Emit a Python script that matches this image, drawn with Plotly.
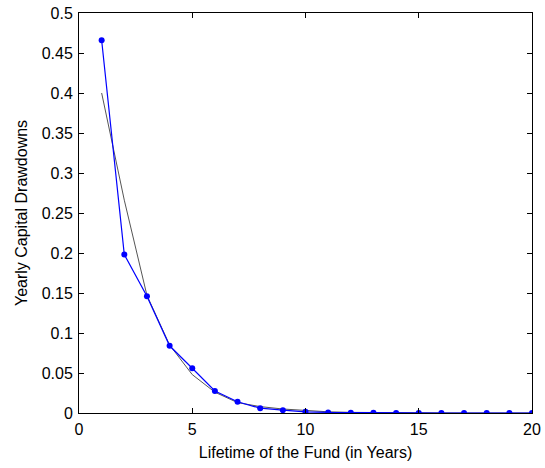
import plotly.graph_objects as go

years = list(range(1, 21))
drawdowns = [0.466, 0.198, 0.146, 0.084, 0.056, 0.0275, 0.014, 0.006, 0.0035, 0.0015,
             0.0007, 0.0004, 0.0002, 0.0001, 0.0001, 0.0, 0.0, 0.0, 0.0, 0.0]
fitted = [0.400, 0.266, 0.147, 0.085, 0.048, 0.026, 0.013, 0.008, 0.005, 0.003,
          0.0015, 0.0008, 0.0004, 0.0002, 0.0001, 0.0001, 0.0, 0.0, 0.0, 0.0]

fig = go.Figure()
fig.add_trace(go.Scatter(x=years, y=fitted, mode="lines",
                         line=dict(color="#555555", width=1), showlegend=False))
fig.add_trace(go.Scatter(x=years, y=drawdowns, mode="lines+markers",
                         line=dict(color="#0000ff", width=1.2),
                         marker=dict(color="#0000ff", size=6), showlegend=False))

axis_common = dict(showgrid=False, zeroline=False, showline=True, linecolor="black",
                   linewidth=1, mirror="ticks", ticks="inside", ticklen=5,
                   tickcolor="black", tickfont=dict(size=16, color="black"),
                   automargin=False)

fig.update_layout(
    width=545, height=468,
    margin=dict(l=79, r=13, t=13, b=55),
    plot_bgcolor="white", paper_bgcolor="white",
    font=dict(family="Liberation Sans, Arial, sans-serif", size=16, color="black"),
    xaxis=dict(range=[0, 20], tickvals=[0, 5, 10, 15, 20], ticklabelstandoff=2,
               title=dict(text="Lifetime of the Fund (in Years)", standoff=9, font=dict(size=16)),
               **axis_common),
    yaxis=dict(range=[0, 0.5], tickvals=[i * 0.05 for i in range(11)], ticklabelstandoff=2,
               ticktext=["0", "0.05", "0.1", "0.15", "0.2", "0.25", "0.3", "0.35", "0.4", "0.45", "0.5"],
               title=dict(text="Yearly Capital Drawdowns", standoff=10, font=dict(size=16)),
               **axis_common),
)

fig.write_html("out.html")
